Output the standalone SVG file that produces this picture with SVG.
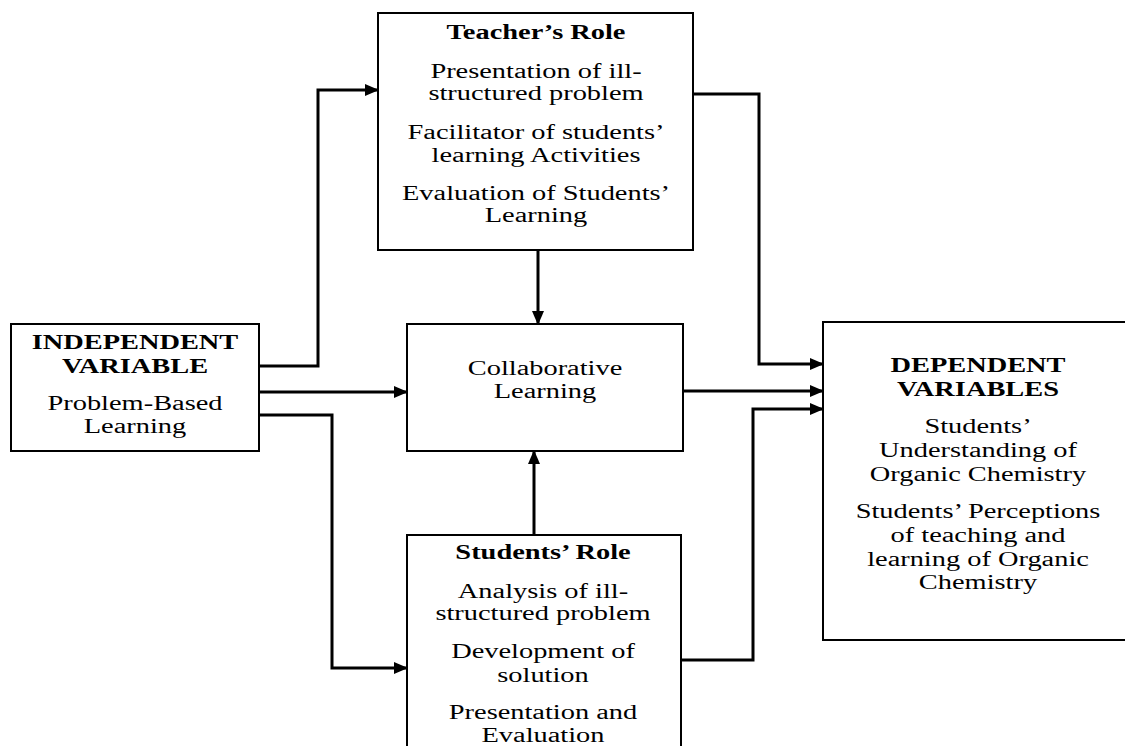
<svg xmlns="http://www.w3.org/2000/svg" width="1125" height="746" viewBox="0 0 1125 746">
<defs>
<style>
.box{fill:#fff;stroke:#000;stroke-width:2}
.c{fill:none;stroke:#000;stroke-width:3;marker-end:url(#ah)}
.cn{fill:none;stroke:#000;stroke-width:3}
text{font-family:"Liberation Serif","Times New Roman",serif;font-size:20px;fill:#000;text-anchor:middle}
.b{font-weight:bold}
</style>
<marker id="ah" markerUnits="userSpaceOnUse" markerWidth="14" markerHeight="12" refX="13" refY="6" orient="auto">
<path d="M0,0 L14,6 L0,12 Z" fill="#000"/>
</marker>
</defs>
<rect width="1125" height="746" fill="#fff"/>
<g id="teacher">
<rect class="box" x="378" y="13" width="315" height="237"/>
<g transform="translate(536 0) scale(1.42 1)">
<text class="b" x="0" y="39">Teacher’s Role</text>
<text x="0" y="78">Presentation of ill-</text>
<text x="0" y="100">structured problem</text>
<text x="0" y="139">Facilitator of students’</text>
<text x="0" y="162">learning Activities</text>
<text x="0" y="200">Evaluation of Students’</text>
<text x="0" y="222">Learning</text>
</g>
</g>
<g id="independent">
<rect class="box" x="11" y="324" width="248" height="127"/>
<g transform="translate(135 0) scale(1.42 1)">
<text class="b" x="0" y="349">INDEPENDENT</text>
<text class="b" x="0" y="373">VARIABLE</text>
<text x="0" y="410">Problem-Based</text>
<text x="0" y="433">Learning</text>
</g>
</g>
<g id="collaborative">
<rect class="box" x="407" y="324" width="276" height="127"/>
<g transform="translate(545 0) scale(1.42 1)">
<text x="0" y="375">Collaborative</text>
<text x="0" y="398">Learning</text>
</g>
</g>
<g id="dependent">
<rect class="box" x="823" y="322" width="320" height="318"/>
<g transform="translate(978 0) scale(1.42 1)">
<text class="b" x="0" y="372">DEPENDENT</text>
<text class="b" x="0" y="396">VARIABLES</text>
<text x="0" y="433">Students’</text>
<text x="0" y="457">Understanding of</text>
<text x="0" y="481">Organic Chemistry</text>
<text x="0" y="518">Students’ Perceptions</text>
<text x="0" y="542">of teaching and</text>
<text x="0" y="566">learning of Organic</text>
<text x="0" y="589">Chemistry</text>
</g>
</g>
<g id="students">
<rect class="box" x="407" y="535" width="274" height="240"/>
<g transform="translate(543 0) scale(1.42 1)">
<text class="b" x="0" y="559">Students’ Role</text>
<text x="0" y="598">Analysis of ill-</text>
<text x="0" y="620">structured problem</text>
<text x="0" y="658">Development of</text>
<text x="0" y="682">solution</text>
<text x="0" y="719">Presentation and</text>
<text x="0" y="742">Evaluation</text>
</g>
</g>
<g id="connectors">
<polyline class="c" points="259,366 318,366 318,90 378,90"/>
<polyline class="c" points="259,392 407,392"/>
<polyline class="c" points="259,415 332,415 332,668 407,668"/>
<polyline class="c" points="538,250 538,324"/>
<polyline class="c" points="534,535 534,451"/>
<polyline class="c" points="693,94 759,94 759,364 823,364"/>
<polyline class="c" points="683,391 823,391"/>
<polyline class="c" points="681,660 753,660 753,409 823,409"/>
</g>
</svg>
